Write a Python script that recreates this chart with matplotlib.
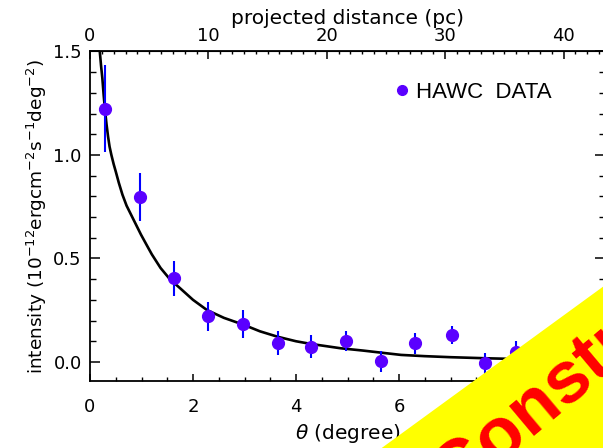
import matplotlib
matplotlib.use('Agg')
import matplotlib.pyplot as plt
from matplotlib.lines import Line2D
from matplotlib.patches import Polygon
from matplotlib.ticker import MultipleLocator

# HAWC surface brightness profile
theta = [0.29, 0.98, 1.64, 2.29, 2.98, 3.65, 4.30, 4.98, 5.65, 6.32, 7.02, 7.67, 8.28]
intensity = [1.222, 0.796, 0.404, 0.221, 0.182, 0.090, 0.074, 0.103, 0.003, 0.090, 0.130, -0.006, 0.050]
err = [0.21, 0.115, 0.085, 0.07, 0.067, 0.058, 0.056, 0.048, 0.052, 0.05, 0.045, 0.05, 0.05]

# model curve
model_theta = [0.19, 0.215, 0.24, 0.265, 0.29, 0.32, 0.35, 0.38, 0.415, 0.46, 0.5, 0.56, 0.63,
               0.71, 0.8, 0.9, 0.99, 1.1, 1.2, 1.37, 1.55, 1.75, 2.0, 2.27, 2.6, 2.99, 3.3,
               3.64, 4.0, 4.29, 4.87, 5.3, 5.65, 6.04, 6.5, 7.0, 7.66, 8.3, 9.0, 10.0]
model_int = [1.50, 1.43, 1.37, 1.29, 1.22, 1.15, 1.09, 1.04, 1.00, 0.955, 0.92, 0.865, 0.808,
             0.755, 0.71, 0.66, 0.615, 0.565, 0.52, 0.454, 0.40, 0.356, 0.30, 0.251, 0.213,
             0.179, 0.148, 0.122, 0.10, 0.087, 0.066, 0.055, 0.045, 0.034, 0.028, 0.023,
             0.018, 0.014, 0.011, 0.008]

PC_PER_DEG = 4.35

fig = plt.figure(figsize=(6.03, 4.48), dpi=100)
ax = fig.add_axes([90 / 603, 1 - 381 / 448, 515 / 603, 330 / 448])

ax.plot(model_theta, model_int, color='k', lw=1.9, zorder=2)
ax.errorbar(theta, intensity, yerr=err, fmt='o', color='#5a00ff', ecolor='#0000ff',
            elinewidth=1.5, markersize=8.5, capsize=0, zorder=3)

ax.set_xlim(0, 10)
ax.set_ylim(-0.092, 1.502)
ax.xaxis.set_major_locator(MultipleLocator(2))
ax.xaxis.set_minor_locator(MultipleLocator(0.5))
ax.yaxis.set_major_locator(MultipleLocator(0.5))
ax.yaxis.set_minor_locator(MultipleLocator(0.1))
ax.yaxis.set_major_formatter(matplotlib.ticker.FormatStrFormatter('%.1f'))

for s in ax.spines.values():
    s.set_linewidth(1.3)

ax.tick_params(axis='x', which='major', direction='in', length=5, width=1.1,
               labelsize=13, pad=12, top=False)
ax.tick_params(axis='x', which='minor', direction='in', length=2.6, width=1.0, top=False)
ax.tick_params(axis='y', which='major', direction='in', length=7, width=1.1,
               labelsize=13, pad=6, right=True)
ax.tick_params(axis='y', which='minor', direction='in', length=4, width=1.0, right=True)

ax.set_xlabel(r'$\theta$ (degree)', fontsize=14.5, labelpad=4.5)
ax.set_ylabel(r'intensity (10$^{-12}$ergcm$^{-2}$s$^{-1}$deg$^{-2}$)', fontsize=13.3, labelpad=3)

sec = ax.secondary_xaxis('top', functions=(lambda t: t * PC_PER_DEG, lambda d: d / PC_PER_DEG))
sec.xaxis.set_major_locator(MultipleLocator(10))
sec.xaxis.set_minor_locator(MultipleLocator(1))
sec.tick_params(which='major', direction='in', length=5.5, width=1.1, labelsize=13, pad=4.5)
sec.tick_params(which='minor', direction='in', length=2.4, width=1.0)
sec.set_xlabel('projected distance (pc)', fontsize=14.5, labelpad=2)

handle = Line2D([], [], marker='o', ls='none', color='#5a00ff', markersize=7)
ax.legend([handle], ['HAWC  DATA'], loc='center left', bbox_to_anchor=(0.555, 0.875),
          frameon=False, handlelength=0.6, handletextpad=0.3,
          prop={'family': 'Liberation Sans', 'size': 16})

# yellow banner in the corner
fig.patches.append(Polygon([(381.7 / 603, 0), (1, 1 - 286.7 / 448), (1, 0)],
                           closed=True, transform=fig.transFigure,
                           facecolor='#ffff00', edgecolor='none', zorder=10))
fig.text(455 / 603, 1 - 500 / 448, 'Construction', rotation=40, rotation_mode='anchor',
         ha='left', va='baseline', color='#ff0000', fontsize=53, fontweight='bold',
         family='Liberation Sans', zorder=11)

fig.savefig('out.png', dpi=100)
